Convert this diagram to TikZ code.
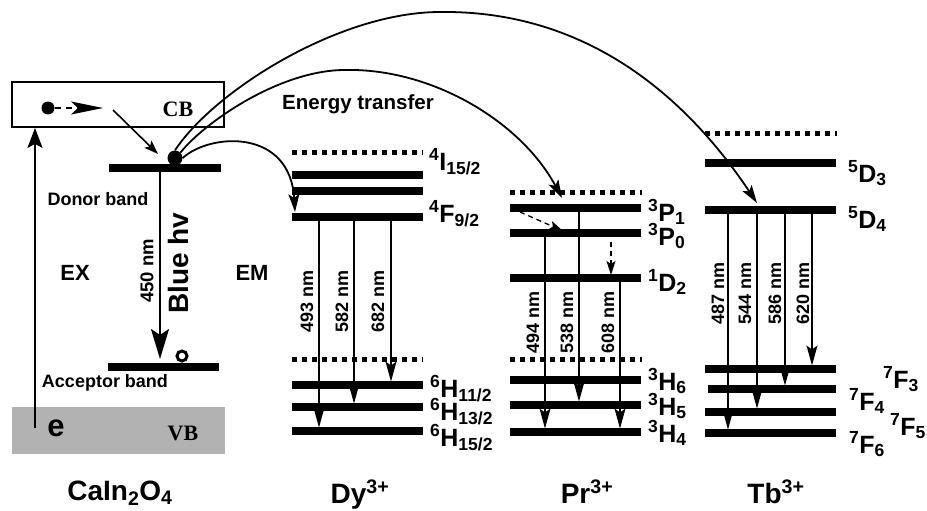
\documentclass[tikz,border=0pt]{standalone}
\usepackage{fontspec}
\setmainfont{Liberation Sans}
\newfontfamily\timesbf{Liberation Serif}
\usetikzlibrary{arrows.meta}
\newcommand{\term}[3]{\textsuperscript{#1}#2\textsubscript{#3}}

\begin{document}
\begin{tikzpicture}[x=1pt,y=-1pt,
  bar/.style={line width=7.5pt},
  dotlvl/.style={line width=5pt, dash pattern=on 5pt off 5pt},
  emit/.style={line width=1.3pt, -{Stealth[length=20pt,width=11pt,inset=4pt]}, shorten >=3.5pt},
  transfer/.style={line width=1.8pt, -{Stealth[length=18pt,width=11pt,inset=4pt]}},
  termlab/.style={anchor=base west, inner sep=0pt, font=\fontsize{25}{28}\selectfont\bfseries},
  nmlab/.style={rotate=90, inner sep=0pt, font=\fontsize{18}{20}\selectfont\bfseries},
  ionlab/.style={anchor=base, font=\fontsize{28}{30}\selectfont\bfseries}]
  \useasboundingbox (0,0) rectangle (927,511);

  % Host: CB box, VB band
  \node[draw, line width=1.8pt, minimum width=212pt, minimum height=45pt, inner sep=0pt] (cbbox) at (118,104.5) {};
  \node[fill=black!30, minimum width=213pt, minimum height=47pt, inner sep=0pt] (vbbox) at (118.5,430.5) {};
  \node[font=\fontsize{22}{24}\selectfont\timesbf\bfseries] (cb) at (178,109) {CB};
  \node[font=\fontsize{22}{24}\selectfont\timesbf\bfseries] (vb) at (183,433) {VB};
  \node[font=\fontsize{31}{32}\selectfont\bfseries] (elec) at (56,428) {e};

  % Donor and acceptor bands
  \coordinate (donor) at (109,168);
  \coordinate (acceptor) at (108,367);
  \draw[bar] (donor) -- ++(112,0);
  \draw[bar] (acceptor) -- ++(111,0);
  \node[font=\fontsize{18}{20}\selectfont\bfseries] (donlab) at (98,199) {Donor band};
  \node[font=\fontsize{18}{20}\selectfont\bfseries] (acclab) at (105,383) {Acceptor band};
  \node[circle, fill=black, minimum size=15pt, inner sep=0pt] (ed) at (175,158) {};
  \node[circle, draw, fill=white, line width=3pt, minimum size=10pt, inner sep=0pt] (hole) at (182,356) {};

  % Excitation and electron path
  \coordinate (exbot) at (35,428);
  \draw[line width=1.8pt, -{Stealth[length=20pt,width=15pt,inset=4pt]}] (exbot) -- (exbot |- cbbox.south);
  \node[circle, fill=black, minimum size=13pt, inner sep=0pt] (ec) at (48,108) {};
  \coordinate (ectip) at (103,108);
  \draw[line width=1.6pt, dash pattern=on 6pt off 5pt, -{Stealth[length=32pt,width=13pt,inset=7pt]}] (ec) -- (ectip);
  \coordinate (relax) at (113,110);
  \coordinate (relaxtip) at (158,154);
  \draw[line width=1.6pt, -{Stealth[length=14pt,width=10pt,inset=3pt]}] (relax) -- (relaxtip);

  % Blue emission of the host
  \coordinate (bluetop) at (160,172);
  \coordinate (bluebot) at (160,359);
  \draw[line width=1.6pt, -{Stealth[length=30pt,width=18pt,inset=6pt]}] (bluetop) -- (bluebot);
  \node[rotate=90, font=\fontsize{18.5}{20}\selectfont\bfseries] (nm450) at (147,271) {450 nm};
  \node[rotate=90, font=\fontsize{28}{30}\selectfont\bfseries] (bluehv) at (178,263) {Blue hv};
  \node[font=\fontsize{22}{24}\selectfont\bfseries] (ex) at (75,273) {EX};
  \node[font=\fontsize{22}{24}\selectfont\bfseries] (em) at (252,273) {EM};
  \node[font=\fontsize{20.5}{22}\selectfont\bfseries] (et) at (358,104) {Energy transfer};

  % Dy3+ levels
  \coordinate (dyI) at (292,152);
  \coordinate (dyA) at (292,175);
  \coordinate (dyB) at (292,191);
  \coordinate (dyF) at (292,217);
  \coordinate (dyL) at (292,359);
  \coordinate (dyH1) at (292,385);
  \coordinate (dyH2) at (292,407);
  \coordinate (dyH3) at (292,431);
  \draw[dotlvl] (dyI) -- ++(131,0);
  \draw[bar] (dyA) -- ++(131,0);
  \draw[bar] (dyB) -- ++(131,0);
  \draw[bar] (dyF) -- ++(131,0);
  \draw[dotlvl] (dyL) -- ++(131,0);
  \draw[bar] (dyH1) -- ++(131,0);
  \draw[bar] (dyH2) -- ++(131,0);
  \draw[bar] (dyH3) -- ++(131,0);
  \draw[emit] (319,0 |- dyF) -- (319,0 |- dyH3);
  \draw[emit] (354,0 |- dyF) -- (354,0 |- dyH2);
  \draw[emit] (391,0 |- dyF) -- (391,0 |- dyH1);
  \node[nmlab] (dy493) at (307,301) {493 nm};
  \node[nmlab] (dy582) at (342,301) {582 nm};
  \node[nmlab] (dy682) at (378,301) {682 nm};
  \node[termlab] (tdyI) at (429,170) {\term{4}{I}{15/2}};
  \node[termlab] (tdyF) at (429,222) {\term{4}{F}{9/2}};
  \node[termlab] (tdyH1) at (430,397) {\term{6}{H}{11/2}};
  \node[termlab] (tdyH2) at (430,420) {\term{6}{H}{13/2}};
  \node[termlab] (tdyH3) at (430,446) {\term{6}{H}{15/2}};

  % Pr3+ levels
  \coordinate (prL) at (510,192);
  \coordinate (prP1) at (510,208);
  \coordinate (prP0) at (510,233);
  \coordinate (prD) at (510,278);
  \coordinate (prM) at (510,359);
  \coordinate (prH6) at (510,380);
  \coordinate (prH5) at (510,405);
  \coordinate (prH4) at (510,432);
  \draw[dotlvl] (prL) -- ++(132,0);
  \draw[bar] (prP1) -- ++(131,0);
  \draw[bar] (prP0) -- ++(131,0);
  \draw[bar] (prD) -- ++(131,0);
  \draw[dotlvl] (prM) -- ++(132,0);
  \draw[bar] (prH6) -- ++(131,0);
  \draw[bar] (prH5) -- ++(131,0);
  \draw[bar] (prH4) -- ++(131,0);
  \draw[emit] (545,0 |- prP0) -- (545,0 |- prH4);
  \draw[emit] (579,0 |- prP1) -- (579,0 |- prH5);
  \draw[emit] (620,0 |- prD) -- (620,0 |- prH4);
  \coordinate (nr1) at (520,212);
  \coordinate (nr1tip) at (563,231);
  \coordinate (nr2) at (611,242);
  \coordinate (nr2tip) at (611,275);
  \draw[line width=1.3pt, dash pattern=on 5pt off 4pt, -{Stealth[length=14pt,width=9pt,inset=3pt]}] (nr1) -- (nr1tip);
  \draw[line width=1.3pt, dash pattern=on 5pt off 4pt, -{Stealth[length=14pt,width=9pt,inset=3pt]}] (nr2) -- (nr2tip);
  \node[nmlab] (pr494) at (533,322) {494 nm};
  \node[nmlab] (pr538) at (567,322) {538 nm};
  \node[nmlab] (pr608) at (608,322) {608 nm};
  \node[termlab] (tprP1) at (648,221) {\term{3}{P}{1}};
  \node[termlab] (tprP0) at (648,245) {\term{3}{P}{0}};
  \node[termlab] (tprD) at (648,291) {\term{1}{D}{2}};
  \node[termlab] (tprH6) at (648,390) {\term{3}{H}{6}};
  \node[termlab] (tprH5) at (648,415) {\term{3}{H}{5}};
  \node[termlab] (tprH4) at (648,442) {\term{3}{H}{4}};

  % Tb3+ levels
  \coordinate (tbL) at (705,133);
  \coordinate (tbD3) at (705,163);
  \coordinate (tbD4) at (705,210);
  \coordinate (tbF3) at (705,369);
  \coordinate (tbF4) at (708,389);
  \coordinate (tbF5) at (705,412);
  \coordinate (tbF6) at (705,433);
  \draw[dotlvl] (tbL) -- ++(132,0);
  \draw[bar] (tbD3) -- ++(131,0);
  \draw[bar] (tbD4) -- ++(131,0);
  \draw[bar] (tbF3) -- ++(131,0);
  \draw[bar] (tbF4) -- ++(128,0);
  \draw[bar] (tbF5) -- ++(131,0);
  \draw[bar] (tbF6) -- ++(131,0);
  \draw[emit] (728,0 |- tbD4) -- (728,0 |- tbF6);
  \draw[emit] (757,0 |- tbD4) -- (757,0 |- tbF5);
  \draw[emit] (785,0 |- tbD4) -- (785,0 |- tbF4);
  \draw[emit] (812,0 |- tbD4) -- (812,0 |- tbF3);
  \node[nmlab] (tb487) at (718,293) {487 nm};
  \node[nmlab] (tb544) at (745,293) {544 nm};
  \node[nmlab] (tb586) at (775,293) {586 nm};
  \node[nmlab] (tb620) at (803,293) {620 nm};
  \node[termlab] (ttbD3) at (848,182) {\term{5}{D}{3}};
  \node[termlab] (ttbD4) at (848,228) {\term{5}{D}{4}};
  \node[termlab] (ttbF3) at (883,388) {\term{7}{F}{3}};
  \node[termlab] (ttbF4) at (849,410) {\term{7}{F}{4}};
  \node[termlab] (ttbF5) at (890,435) {\term{7}{F}{5}};
  \node[termlab] (ttbF6) at (849,453) {\term{7}{F}{6}};

  % Energy transfer arcs
  \coordinate (dyin) at (295,212);
  \coordinate (prtop) at (345,70);
  \coordinate (prin) at (562,198);
  \coordinate (tbtop) at (440,12);
  \coordinate (tbin) at (757,203);
  \draw[transfer] (ed.east) .. controls (210,133) and (290,128) .. (dyin);
  \draw[transfer] (ed.north east) .. controls (205,122) and (280,70) .. (prtop)
    .. controls (430,68) and (520,120) .. (prin);
  \draw[transfer] (ed.north) .. controls (215,90) and (340,12) .. (tbtop)
    .. controls (600,10) and (697,113) .. (tbin);

  % Bottom labels
  \node[ionlab] (host) at (120,500) {CaIn\textsubscript{2}O\textsubscript{4}};
  \node[ionlab] (dy) at (360,503) {Dy\textsuperscript{3+}};
  \node[ionlab] (pr) at (587,503) {Pr\textsuperscript{3+}};
  \node[ionlab] (tb) at (776,503) {Tb\textsuperscript{3+}};
\end{tikzpicture}
\end{document}
